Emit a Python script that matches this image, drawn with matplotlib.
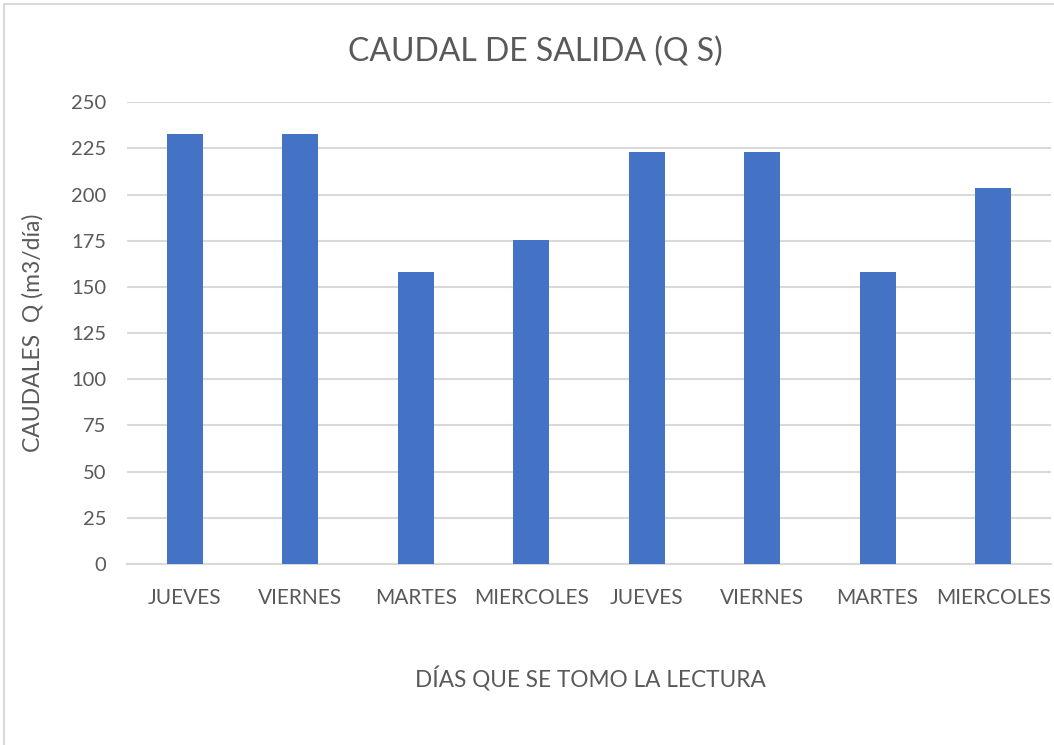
import matplotlib
matplotlib.use("Agg")
from matplotlib import pyplot as plt
from matplotlib.patches import Rectangle

dias = ["JUEVES", "VIERNES", "MARTES", "MIERCOLES", "JUEVES", "VIERNES", "MARTES", "MIERCOLES"]
caudales = [233, 233, 158, 175.5, 223, 223, 158, 203.5]
yticks = [0, 25, 50, 75, 100, 125, 150, 175, 200, 225, 250]

plt.rcParams['font.family'] = ['Lato', 'DejaVu Sans']
txt = '#595959'
grid = '#d9d9d9'

fig = plt.figure(figsize=(10.54, 7.45), dpi=100)
ax = fig.add_axes([0.1205, 0.243, 0.8765, 0.6197])

x = list(range(len(dias)))
ax.bar(x, caudales, width=0.31, color='#4472C4', zorder=3)

ax.set_xlim(-0.5, len(dias) - 0.5)
ax.set_ylim(0, 250)
ax.set_yticks(yticks)
ax.set_xticks(x)
ax.set_xticklabels(dias)
ax.yaxis.grid(True, color=grid, linewidth=1.5, zorder=0)
ax.set_axisbelow(True)
for s in ['top', 'right', 'left']:
  ax.spines[s].set_visible(False)
ax.spines['bottom'].set_color(grid)
ax.spines['bottom'].set_linewidth(1.5)
ax.tick_params(length=0, labelsize=14.5, colors=txt)
ax.tick_params(axis='x', labelsize=15, pad=17)
ax.tick_params(axis='y', pad=15)

ax.set_ylabel("CAUDALES  Q (m3/día)", fontsize=16.5, color=txt, labelpad=20)
fig.text(0.56, 0.089, "DÍAS QUE SE TOMO LA LECTURA", ha='center', va='center', fontsize=16.3, color=txt)
fig.text(0.508, 0.93, "CAUDAL DE SALIDA (Q S)", ha='center', va='center', fontsize=23, color=txt)

# chart border
fig.patches.append(Rectangle((0.004, -0.01), 1.1, 1.0046, transform=fig.transFigure,
                             fill=False, edgecolor=grid, linewidth=1.5))

fig.savefig("out.png", dpi=100)
